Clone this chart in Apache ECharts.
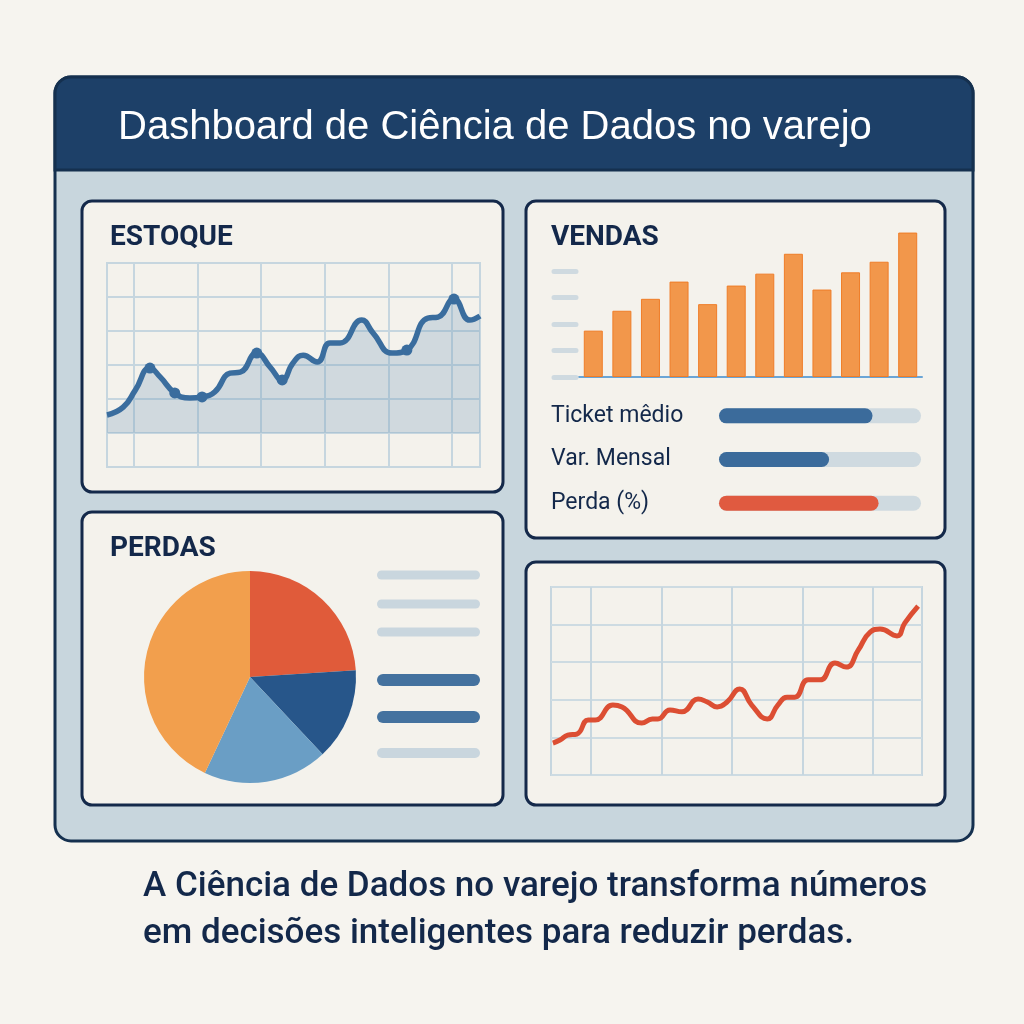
<!DOCTYPE html>
<html>
<head>
<meta charset="utf-8">
<script src="https://cdn.jsdelivr.net/npm/echarts@6/dist/echarts.min.js"></script>
<style>
html, body { margin: 0; padding: 0; background: #f6f4ef; }
#chart-container { width: 1024px; height: 1024px; }
</style>
</head>
<body>
<div id="chart-container"></div>
<script>
// estoque: [x, y] (x em colunas da grade, y em linhas)
var estoqueData = [
  [-0.425, 1.53], [-0.17, 1.76], [0.02, 2.26], [0.25, 2.91], [0.41, 2.65],
  [0.64, 2.18], [0.88, 2.03], [1.07, 2.06], [1.27, 2.21], [1.51, 2.76],
  [1.67, 2.79], [1.93, 3.35], [2.14, 2.94], [2.33, 2.56], [2.5, 3.06],
  [2.66, 3.29], [2.88, 3.09], [3.08, 3.65], [3.24, 3.65], [3.58, 4.32],
  [3.76, 3.94], [4.06, 3.35], [4.29, 3.44], [4.62, 4.38], [4.78, 4.41],
  [5.03, 4.94], [5.28, 4.32], [5.44, 4.44]
];
var estoqueDots = [3, 5, 7, 11, 13, 22, 25];
var estoqueCols = [0, 1, 2, 3, 4, 5];

// vendas mensais
var meses = ['Jan', 'Fev', 'Mar', 'Abr', 'Mai', 'Jun', 'Jul', 'Ago', 'Set', 'Out', 'Nov', 'Dez'];
var vendas = [35, 50, 59, 72, 55, 69, 78, 93, 66, 79, 87, 109];
var vendasTicks = [0, 20, 40, 60, 80];

// indicadores
var indicadores = ['Ticket mêdio', 'Var. Mensal', 'Perda (%)'];
var indicadoresValor = [0.76, 0.545, 0.79];
var indicadoresCor = ['#3b6b9b', '#3b6b9b', '#e05a40'];

// perdas
var perdas = [
  { name: 'Vencimento', value: 24 },
  { name: 'Avaria', value: 14 },
  { name: 'Furto', value: 19 },
  { name: 'Outros', value: 43 }
];
var perdasCor = ['#e05b3a', '#27568a', '#6a9ec5', '#f29f4d'];

// tendência
var tendencia = [
  [-0.54, 0.85], [-0.44, 0.93], [-0.33, 1.06], [-0.2, 1.09], [-0.04, 1.46],
  [0.06, 1.46], [0.31, 1.86], [0.44, 1.81], [0.72, 1.38], [0.87, 1.49],
  [0.95, 1.49], [1.12, 1.73], [1.29, 1.68], [1.52, 2.02], [1.65, 1.94],
  [1.79, 1.81], [1.93, 1.94], [2.11, 2.29], [2.28, 1.86], [2.5, 1.49],
  [2.65, 1.86], [2.78, 2.07], [2.89, 2.07], [3.08, 2.53], [3.25, 2.53],
  [3.46, 2.98], [3.62, 2.87], [3.79, 3.32], [3.96, 3.8], [4.1, 3.88],
  [4.34, 3.7], [4.45, 4.04], [4.64, 4.49]
];
var tendenciaCols = [0, 1, 2, 3, 4];

var dom = document.getElementById('chart-container');
var myChart = echarts.init(dom);

var corGrade = '#c6d6df';
var corTexto = '#13284a';
var corBorda = '#14294a';

function cartao(x, y, w, h) {
  return {
    type: 'rect',
    z: -5,
    shape: { x: x, y: y, width: w, height: h, r: 10 },
    style: { fill: '#f4f2ec', stroke: corBorda, lineWidth: 3 }
  };
}

function titulo(texto, x, y) {
  return {
    type: 'text',
    z: -4,
    x: x,
    y: y,
    style: {
      text: texto,
      fill: corTexto,
      font: 'bold 28px Roboto',
      verticalAlign: 'middle'
    }
  };
}

function barrinha(y, h, cor) {
  return {
    type: 'rect',
    z: -4,
    shape: { x: 377, y: y - h / 2, width: 103, height: h, r: h / 2 },
    style: { fill: cor }
  };
}

function gradeVertical(cols) {
  return {
    z: 1,
    silent: true,
    symbol: ['none', 'none'],
    label: { show: false },
    lineStyle: { color: corGrade, width: 2, type: 'solid' },
    emphasis: { disabled: true },
    data: cols.map(function (v) {
      return { xAxis: v };
    })
  };
}

var option = {
  backgroundColor: '#f6f4ef',
  animation: false,
  graphic: [
    {
      type: 'rect',
      z: -10,
      shape: { x: 55, y: 77, width: 918, height: 764, r: 16 },
      style: { fill: '#c8d6dd', stroke: '#15304f', lineWidth: 3 }
    },
    {
      type: 'rect',
      z: -9,
      shape: { x: 55, y: 77, width: 918, height: 93, r: [16, 16, 0, 0] },
      style: { fill: '#1d4068', stroke: '#15304f', lineWidth: 3 }
    },
    {
      type: 'text',
      z: -8,
      x: 118,
      y: 128,
      style: {
        text: 'Dashboard de Ciência de Dados no varejo',
        fill: '#ffffff',
        font: '40px "Liberation Sans"',
        verticalAlign: 'middle'
      }
    },
    cartao(82, 201, 421, 291),
    cartao(526, 201, 419, 337),
    cartao(82, 512, 421, 293),
    cartao(526, 562, 419, 243),
    titulo('ESTOQUE', 110, 238),
    titulo('VENDAS', 551, 238),
    titulo('PERDAS', 110, 549),
    barrinha(575, 9, '#c9d6de'),
    barrinha(604, 9, '#c9d6de'),
    barrinha(632, 9, '#c9d6de'),
    barrinha(680, 12, '#44729f'),
    barrinha(717, 12, '#44729f'),
    barrinha(753, 10, '#c9d6de'),
    {
      type: 'text',
      x: 143,
      y: 887,
      style: {
        text: 'A Ciência de Dados no varejo transforma números',
        fill: corTexto,
        font: '500 35px Roboto',
        verticalAlign: 'middle'
      }
    },
    {
      type: 'text',
      x: 143,
      y: 934,
      style: {
        text: 'em decisões inteligentes para reduzir perdas.',
        fill: corTexto,
        font: '500 35px Roboto',
        verticalAlign: 'middle'
      }
    }
  ],
  grid: [
    { left: 107, top: 263, width: 373, height: 204, show: true, borderColor: corGrade, borderWidth: 2 },
    { left: 579, top: 218, width: 343, height: 159 },
    { left: 719, top: 394, width: 202, height: 131 },
    { left: 551, top: 587, width: 371, height: 188, show: true, borderColor: corGrade, borderWidth: 2 }
  ],
  xAxis: [
    { gridIndex: 0, type: 'value', min: -0.425, max: 5.44, show: false },
    {
      gridIndex: 1,
      type: 'category',
      data: meses,
      axisLine: { lineStyle: { color: '#6aa5d6', width: 2 } },
      axisTick: { show: false },
      axisLabel: { show: false }
    },
    { gridIndex: 2, type: 'value', min: 0, max: 1, show: false },
    { gridIndex: 3, type: 'value', min: -0.567, max: 4.695, show: false }
  ],
  yAxis: [
    {
      gridIndex: 0,
      type: 'value',
      min: 0,
      max: 6,
      interval: 1,
      axisLine: { show: false },
      axisTick: { show: false },
      axisLabel: { show: false },
      splitLine: { lineStyle: { color: corGrade, width: 2 } }
    },
    {
      gridIndex: 1,
      type: 'value',
      min: 0,
      max: 120,
      offset: 3,
      axisLine: { show: false },
      axisTick: {
        show: true,
        length: 22,
        customValues: vendasTicks,
        lineStyle: { color: '#cfdae0', width: 5, cap: 'round' }
      },
      axisLabel: { show: false },
      splitLine: { show: false }
    },
    {
      gridIndex: 2,
      type: 'category',
      data: indicadores,
      inverse: true,
      axisLine: { show: false },
      axisTick: { show: false },
      axisLabel: {
        align: 'left',
        margin: 168,
        fontSize: 23,
        fontFamily: 'Roboto',
        color: corTexto
      }
    },
    {
      gridIndex: 3,
      type: 'value',
      min: 0,
      max: 5,
      interval: 1,
      axisLine: { show: false },
      axisTick: { show: false },
      axisLabel: { show: false },
      splitLine: { lineStyle: { color: '#cddbe2', width: 2 } }
    }
  ],
  series: [
    {
      type: 'line',
      xAxisIndex: 0,
      yAxisIndex: 0,
      z: 3,
      data: estoqueData,
      smooth: 0.5,
      showSymbol: true,
      symbol: 'circle',
      symbolSize: function (value, params) {
        return estoqueDots.indexOf(params.dataIndex) >= 0 ? 11 : 0;
      },
      itemStyle: { color: '#3a6d9e' },
      lineStyle: { color: '#3a6d9e', width: 5.5 },
      areaStyle: { color: 'rgba(110, 150, 182, 0.38)', origin: 1 },
      markLine: gradeVertical(estoqueCols)
    },
    {
      type: 'bar',
      xAxisIndex: 1,
      yAxisIndex: 1,
      data: vendas,
      barWidth: 19,
      itemStyle: { color: '#f2974b', borderColor: '#ef7d28', borderWidth: 1 }
    },
    {
      type: 'bar',
      xAxisIndex: 2,
      yAxisIndex: 2,
      barWidth: 15,
      showBackground: true,
      backgroundStyle: { color: '#cfdae0', borderRadius: 8 },
      data: indicadoresValor.map(function (v, i) {
        return { value: v, itemStyle: { color: indicadoresCor[i], borderRadius: 8 } };
      })
    },
    {
      type: 'pie',
      center: [250, 677],
      radius: 106,
      startAngle: 90,
      clockwise: true,
      label: { show: false },
      labelLine: { show: false },
      color: perdasCor,
      data: perdas
    },
    {
      type: 'line',
      xAxisIndex: 3,
      yAxisIndex: 3,
      z: 3,
      data: tendencia,
      smooth: 0.5,
      showSymbol: false,
      lineStyle: { color: '#dc4e33', width: 5 },
      markLine: gradeVertical(tendenciaCols)
    }
  ]
};

myChart.setOption(option);
window.addEventListener('resize', myChart.resize);
</script>
</body>
</html>
